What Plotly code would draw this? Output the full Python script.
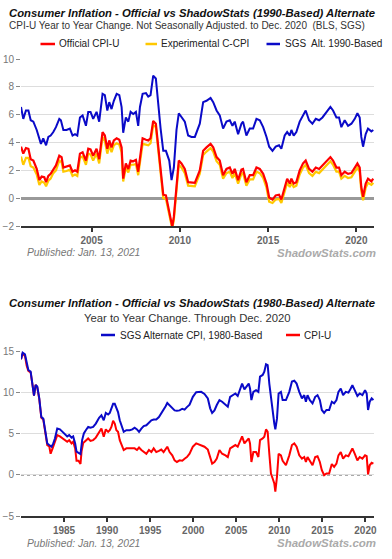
import plotly.graph_objects as go

W, H = 392, 559

# ---------------- Chart 1 data (1990-based) ----------------
cpi1_x = [2001.00, 2001.13, 2001.28, 2001.42, 2001.55, 2001.70, 2001.89, 2002.04, 2002.17, 2002.32,
          2002.42, 2002.55, 2002.68, 2002.83, 2002.98, 2003.17, 2003.30, 2003.40, 2003.58, 2003.77,
          2003.92, 2004.06, 2004.19, 2004.34, 2004.49, 2004.68, 2004.81, 2004.94, 2005.09, 2005.28,
          2005.43, 2005.62, 2005.75, 2005.89, 2006.00, 2006.13, 2006.26, 2006.42, 2006.57, 2006.70,
          2006.79, 2006.94, 2007.08, 2007.21, 2007.36, 2007.51, 2007.64, 2007.74, 2007.89, 2008.08,
          2008.21, 2008.34, 2008.49, 2008.64, 2008.77, 2008.91, 2009.06, 2009.21, 2009.34, 2009.47,
          2009.57, 2009.66, 2009.81, 2009.94, 2010.09, 2010.28, 2010.47, 2010.66, 2010.85, 2011.13,
          2011.32, 2011.51, 2011.74, 2011.89, 2012.08, 2012.26, 2012.45, 2012.64, 2012.83, 2012.98,
          2013.11, 2013.30, 2013.49, 2013.58, 2013.77, 2013.96, 2014.15, 2014.34, 2014.53, 2014.72,
          2014.91, 2015.06, 2015.25, 2015.43, 2015.62, 2015.75, 2015.94, 2016.08, 2016.23, 2016.32,
          2016.45, 2016.60, 2016.79, 2016.98, 2017.13, 2017.32, 2017.51, 2017.70, 2017.89, 2018.08,
          2018.30, 2018.53, 2018.68, 2018.87, 2019.02, 2019.15, 2019.34, 2019.53, 2019.72, 2019.91,
          2020.06, 2020.19, 2020.28, 2020.38, 2020.53, 2020.66, 2020.85, 2020.96]
cpi1_official = [3.7, 3.2, 3.6, 3.55, 2.8, 2.7, 2.1, 1.3, 1.55, 1.5,
                 1.15, 1.6, 1.75, 2.1, 2.35, 3.05, 2.95, 2.2, 2.25, 2.35,
                 1.9, 2.0, 1.9, 3.2, 3.3, 2.7, 3.55, 3.5, 3.05, 3.55,
                 2.8, 4.75, 4.5, 3.55, 4.15, 3.65, 4.15, 4.3, 4.2, 3.65,
                 1.4, 2.5, 2.1, 2.7, 2.65, 2.75, 1.9, 2.95, 4.3, 4.2,
                 4.15, 4.3, 5.55, 5.35, 3.8, 1.75, 0.25, 0.2, -0.65, -1.35,
                 -2.05, -1.35, 1.05, 2.7, 2.5, 2.1, 1.15, 1.1, 1.1, 2.0,
                 3.4, 3.65, 3.9, 3.65, 2.95, 2.7, 1.65, 2.1, 2.2, 1.75,
                 2.1, 1.3, 2.05, 2.1, 1.15, 1.65, 1.65, 2.2, 2.1, 1.75,
                 1.05, 0.05, -0.1, 0.2, 0.25, -0.1, 0.8, 1.4, 1.05, 1.4,
                 1.05, 1.15, 2.0, 2.5, 2.7, 2.1, 1.9, 2.2, 2.1, 2.35,
                 2.7, 2.95, 2.7, 2.2, 2.2, 1.65, 1.9, 1.75, 1.8, 2.2,
                 2.5, 2.2, 0.8, 0.1, 1.05, 1.4, 1.2, 1.4]
cpi1_chained = [3.0, 2.4, 2.9, 2.9, 2.3, 2.2, 1.7, 0.95, 1.2, 1.1,
                0.85, 1.25, 1.4, 1.8, 2.0, 2.7, 2.6, 1.9, 1.95, 2.05,
                1.6, 1.7, 1.6, 2.9, 3.0, 2.4, 3.2, 3.15, 2.7, 3.2,
                2.5, 4.4, 4.1, 3.2, 3.8, 3.3, 3.8, 3.95, 3.85, 3.3,
                1.2, 2.2, 1.85, 2.4, 2.4, 2.45, 1.65, 2.7, 3.9, 3.85,
                3.8, 3.95, 5.25, 5.1, 3.55, 1.5, 0.0, -0.05, -0.9, -1.6,
                -2.2, -1.55, 0.8, 2.4, 2.2, 1.8, 0.9, 0.85, 0.85, 1.75,
                3.1, 3.35, 3.6, 3.35, 2.65, 2.4, 1.4, 1.8, 1.9, 1.45,
                1.8, 1.05, 1.75, 1.8, 0.9, 1.35, 1.35, 1.9, 1.8, 1.45,
                0.75, -0.25, -0.35, -0.1, -0.05, -0.35, 0.5, 1.1, 0.8, 1.1,
                0.8, 0.9, 1.7, 2.2, 2.4, 1.8, 1.6, 1.9, 1.8, 2.05,
                2.4, 2.65, 2.4, 1.9, 1.9, 1.4, 1.6, 1.45, 1.5, 1.9,
                2.2, 1.9, 0.5, -0.15, 0.75, 1.1, 0.95, 1.1]

sgs90_x = [2001.00, 2001.13, 2001.28, 2001.42, 2001.55, 2001.70, 2001.89, 2002.04, 2002.13, 2002.26,
           2002.42, 2002.55, 2002.68, 2002.83, 2002.98, 2003.17, 2003.26, 2003.40, 2003.58, 2003.77,
           2003.92, 2004.06, 2004.19, 2004.34, 2004.49, 2004.68, 2004.81, 2004.94, 2005.09, 2005.28,
           2005.43, 2005.62, 2005.75, 2005.89, 2006.00, 2006.13, 2006.26, 2006.42, 2006.57, 2006.70,
           2006.79, 2006.94, 2007.08, 2007.21, 2007.36, 2007.51, 2007.64, 2007.74, 2007.89, 2008.08,
           2008.21, 2008.34, 2008.49, 2008.64, 2008.77, 2008.91, 2009.06, 2009.21, 2009.40, 2009.53,
           2009.66, 2009.81, 2009.94, 2010.09, 2010.28, 2010.47, 2010.66, 2010.85, 2011.13,
           2011.32, 2011.51, 2011.74, 2011.89, 2012.08, 2012.26, 2012.45, 2012.64, 2012.83, 2012.98,
           2013.11, 2013.30, 2013.49, 2013.58, 2013.77, 2013.96, 2014.15, 2014.34, 2014.53, 2014.72,
           2014.91, 2015.06, 2015.25, 2015.43, 2015.62, 2015.75, 2015.94, 2016.08, 2016.23, 2016.32,
           2016.45, 2016.60, 2016.79, 2016.98, 2017.13, 2017.32, 2017.51, 2017.70, 2017.89, 2018.08,
           2018.30, 2018.53, 2018.68, 2018.87, 2019.02, 2019.15, 2019.34, 2019.53, 2019.72, 2019.91,
           2020.06, 2020.19, 2020.28, 2020.38, 2020.53, 2020.66, 2020.85, 2020.96]
sgs90 = [6.55, 5.7, 6.3, 6.3, 5.6, 5.5, 4.9, 4.2, 3.9, 4.3,
         3.8, 4.4, 4.5, 4.75, 5.1, 5.7, 5.6, 4.9, 4.9, 5.0,
         4.5, 4.6, 4.5, 5.8, 5.95, 5.2, 6.2, 6.2, 5.7, 6.2,
         5.5, 7.5, 7.4, 6.3, 6.9, 6.4, 7.0, 7.5, 7.4, 6.55,
         4.7, 5.8, 5.5, 6.2, 6.05, 6.2, 5.2, 6.55, 7.5, 7.55,
         7.3, 7.4, 8.8, 8.6, 6.7, 5.0, 3.4, 3.4, 2.7, 1.3,
         2.2, 4.9, 6.1, 5.8, 5.5, 4.5, 4.4, 4.4, 5.35,
         6.9, 7.0, 7.2, 6.9, 6.3, 5.95, 5.0, 5.5, 5.6, 5.2,
         5.5, 4.6, 5.35, 5.5, 4.5, 5.0, 5.0, 5.7, 5.6, 5.1,
         4.4, 3.7, 3.4, 3.7, 3.8, 3.55, 4.5, 4.75, 4.5, 4.9,
         4.5, 4.75, 5.5, 5.95, 6.3, 5.6, 5.35, 5.7, 5.6, 5.8,
         6.2, 6.55, 6.3, 5.8, 5.8, 5.1, 5.6, 5.2, 5.35, 5.7,
         6.1, 5.8, 4.4, 3.7, 4.6, 5.0, 4.8, 4.9]

# ---------------- Chart 2 data (1980-based) ----------------
sgs80_x = [1980.00, 1980.19, 1980.46, 1980.66, 1980.85, 1981.12, 1981.35, 1981.51, 1981.70, 1981.89,
           1982.12, 1982.36, 1982.59, 1982.82, 1983.05, 1983.28, 1983.55, 1983.75, 1983.94, 1984.21,
           1984.52, 1984.83, 1985.10, 1985.37, 1985.60, 1985.87, 1986.06, 1986.29, 1986.45, 1986.68,
           1986.91, 1987.10, 1987.30, 1987.53, 1987.80, 1988.07, 1988.38, 1988.69, 1989.07, 1989.34,
           1989.61, 1989.85, 1990.12, 1990.31, 1990.50, 1990.70, 1990.89, 1991.08, 1991.27, 1991.47,
           1991.70, 1991.93, 1992.24, 1992.63, 1992.93, 1993.20, 1993.47, 1993.71, 1993.98, 1994.25,
           1994.56, 1994.86, 1995.14, 1995.41, 1995.71, 1996.02, 1996.29, 1996.56, 1996.80, 1996.99,
           1997.26, 1997.57, 1997.84, 1998.11, 1998.42, 1998.73, 1999.00, 1999.27, 1999.58, 1999.96,
           2000.35, 2000.93, 2001.31, 2001.70, 2001.97, 2002.20, 2002.47, 2002.74, 2003.05, 2003.36,
           2003.75, 2004.02, 2004.29, 2004.59, 2004.90, 2005.17, 2005.44, 2005.68, 2005.95, 2006.22,
           2006.45, 2006.60, 2006.76, 2006.99, 2007.30, 2007.57, 2007.76, 2008.07, 2008.26, 2008.46,
           2008.65, 2008.84, 2009.03, 2009.23, 2009.42, 2009.54, 2009.73, 2009.92, 2010.19, 2010.39,
           2010.77, 2011.16, 2011.47, 2011.74, 2012.01, 2012.32, 2012.63, 2012.90, 2013.09, 2013.28,
           2013.55, 2013.86, 2014.17, 2014.44, 2014.71, 2014.94, 2015.21, 2015.48, 2015.79, 2016.10,
           2016.37, 2016.64, 2016.87, 2017.14, 2017.41, 2017.72, 2018.03, 2018.30, 2018.49, 2018.76,
           2019.07, 2019.34, 2019.65, 2019.96, 2020.15, 2020.31, 2020.50, 2020.73, 2020.93]
sgs80 = [14.0, 14.8, 14.6, 13.5, 12.7, 12.5, 10.9, 9.6, 10.9, 10.7,
         9.3, 7.0, 6.8, 5.4, 3.8, 3.6, 3.4, 3.8, 4.4, 5.6,
         5.5, 5.2, 4.9, 4.65, 4.8, 4.5, 4.65, 3.8, 2.8, 2.65,
         2.5, 4.2, 5.0, 5.4, 5.8, 5.7, 5.8, 6.2, 6.9, 7.2,
         6.6, 7.5, 7.3, 7.5, 8.0, 8.6, 8.6, 8.0, 7.6, 6.6,
         5.8, 5.2, 5.4, 5.4, 5.5, 5.7, 5.5, 5.2, 5.6, 5.9,
         6.0, 6.3, 6.6, 6.7, 6.7, 7.0, 7.4, 7.8, 8.3, 8.7,
         8.4, 8.0, 7.8, 7.75, 7.8, 8.0, 7.9, 8.2, 8.5, 9.45,
         10.0, 10.05, 9.8, 9.25, 8.05, 7.5, 7.8, 8.45, 9.05, 8.85,
         8.45, 8.25, 9.45, 9.65, 9.85, 9.55, 10.25, 11.05, 10.35, 10.75,
         11.05, 10.45, 9.05, 10.05, 10.25, 10.05, 11.9, 12.1, 12.5, 13.4,
         13.3, 11.05, 9.25, 7.2, 6.2, 5.5, 6.8, 9.85, 10.05, 9.05,
         9.05, 10.05, 11.3, 11.4, 11.05, 10.05, 9.25, 9.65, 8.85, 9.65,
         9.05, 8.65, 9.45, 9.65, 9.05, 7.85, 7.5, 7.85, 7.85, 8.85,
         8.65, 9.05, 10.05, 10.45, 9.65, 10.05, 9.95, 10.45, 10.85, 10.25,
         9.55, 9.85, 9.65, 10.25, 9.85, 7.85, 8.85, 9.25, 9.05]

cpi2_x = [1980.00, 1980.19, 1980.46, 1980.66, 1980.85, 1981.12, 1981.35, 1981.51, 1981.70, 1981.89,
          1982.12, 1982.36, 1982.59, 1982.82, 1983.05, 1983.28, 1983.44, 1983.67, 1983.94, 1984.21,
          1984.52, 1984.83, 1985.10, 1985.37, 1985.60, 1985.87, 1986.06, 1986.29, 1986.45, 1986.68,
          1986.91, 1987.03, 1987.22, 1987.53, 1987.80, 1988.07, 1988.38, 1988.69, 1989.07, 1989.34,
          1989.61, 1989.85, 1990.12, 1990.31, 1990.50, 1990.70, 1990.89, 1991.08, 1991.27, 1991.47,
          1991.70, 1991.93, 1992.24, 1992.63, 1992.93, 1993.20, 1993.47, 1993.71, 1993.98, 1994.25,
          1994.56, 1994.86, 1995.14, 1995.41, 1995.71, 1996.02, 1996.29, 1996.56, 1996.80, 1996.99,
          1997.26, 1997.57, 1997.84, 1998.11, 1998.42, 1998.73, 1999.00, 1999.27, 1999.58, 1999.96,
          2000.35, 2000.93, 2001.31, 2001.70, 2001.97, 2002.20, 2002.47, 2002.74, 2003.05, 2003.36,
          2003.75, 2004.02, 2004.29, 2004.59, 2004.90, 2005.17, 2005.44, 2005.68, 2005.95, 2006.22,
          2006.45, 2006.60, 2006.76, 2006.99, 2007.30, 2007.57, 2007.76, 2008.07, 2008.26, 2008.46,
          2008.65, 2008.84, 2009.03, 2009.23, 2009.42, 2009.54, 2009.73, 2009.92, 2010.19, 2010.39,
          2010.77, 2011.16, 2011.47, 2011.74, 2012.01, 2012.32, 2012.63, 2012.90, 2013.09, 2013.28,
          2013.55, 2013.86, 2014.17, 2014.44, 2014.71, 2014.94, 2015.21, 2015.48, 2015.79, 2016.10,
          2016.37, 2016.64, 2016.87, 2017.14, 2017.41, 2017.72, 2018.03, 2018.30, 2018.49, 2018.76,
          2019.07, 2019.34, 2019.65, 2019.96, 2020.15, 2020.31, 2020.50, 2020.73, 2020.93]
cpi2 = [14.0, 14.7, 14.4, 13.2, 12.6, 12.4, 10.8, 9.6, 10.9, 10.6,
        9.2, 6.9, 6.7, 5.3, 3.6, 3.45, 2.55, 3.2, 4.0, 4.8,
        4.65, 4.4, 4.2, 4.0, 4.2, 3.8, 4.0, 3.2, 1.7, 1.7,
        1.3, 2.8, 3.85, 4.2, 4.4, 4.1, 4.2, 4.5, 5.2, 5.6,
        4.6, 5.5, 5.2, 5.4, 5.8, 6.55, 6.2, 5.4, 5.2, 4.2,
        3.6, 3.0, 3.2, 3.2, 3.25, 3.2, 3.0, 3.3, 3.0, 2.75,
        2.55, 3.0, 2.75, 3.2, 2.75, 2.9, 3.05, 2.75, 3.2, 3.4,
        2.75, 2.35, 1.75, 1.55, 1.75, 1.7, 1.95, 2.15, 2.55, 3.4,
        3.8, 3.6, 3.4, 3.05, 1.95, 1.35, 1.55, 1.95, 3.0, 2.55,
        2.35, 2.15, 3.2, 3.4, 3.6, 3.4, 4.2, 4.65, 3.8, 4.2,
        4.4, 3.8, 1.55, 2.75, 2.75, 2.15, 4.2, 4.4, 4.6, 5.5,
        5.2, 2.55, 0.15, -0.45, -1.05, -2.05, -0.25, 2.55, 2.35, 1.7,
        1.15, 2.35, 3.6, 3.8, 3.4, 2.35, 1.95, 2.15, 1.55, 2.15,
        1.7, 1.15, 2.15, 2.25, 1.55, 0.55, -0.05, 0.15, 0.15, 1.3,
        0.95, 1.35, 2.35, 2.75, 1.95, 2.35, 2.25, 2.75, 3.2, 2.55,
        1.75, 2.15, 1.95, 2.35, 2.25, 0.05, 1.15, 1.45, 1.35]

x1_ticks = [2005, 2010, 2015, 2020]
y1_ticks = [-2, 0, 2, 4, 6, 8, 10]
x2_ticks = [1985, 1990, 1995, 2000, 2005, 2010, 2015, 2020]
y2_ticks = [-5, 0, 5, 10, 15]

RED = "#ff0000"
YEL = "#ffc800"
BLUE = "#0a0ac8"
FONT = "Liberation Sans, Arial, sans-serif"

def px(x):
    return x / W

def py(y):
    return 1 - y / H

fig = go.Figure()
fig.add_trace(go.Scatter(x=cpi1_x, y=cpi1_chained, mode="lines", name="Experimental C-CPI",
                         line=dict(color=YEL, width=2.2), xaxis="x", yaxis="y"))
fig.add_trace(go.Scatter(x=cpi1_x, y=cpi1_official, mode="lines", name="Official CPI-U",
                         line=dict(color=RED, width=2.2), xaxis="x", yaxis="y"))
fig.add_trace(go.Scatter(x=sgs90_x, y=sgs90, mode="lines", name="SGS  Alt. 1990-Based",
                         line=dict(color=BLUE, width=2), xaxis="x", yaxis="y"))
fig.add_trace(go.Scatter(x=cpi2_x, y=cpi2, mode="lines", name="CPI-U",
                         line=dict(color=RED, width=2), xaxis="x2", yaxis="y2"))
fig.add_trace(go.Scatter(x=sgs80_x, y=sgs80, mode="lines", name="SGS Alternate CPI, 1980-Based",
                         line=dict(color=BLUE, width=2), xaxis="x2", yaxis="y2"))

xdom = [px(21), px(374)]
common_x = dict(showgrid=False, zeroline=False, showline=True, linecolor="#333", linewidth=1.5,
                ticks="outside", ticklen=4, tickwidth=1.5, tickcolor="#333",
                tickfont=dict(family=FONT, size=10, color="#666", weight="bold"))
common_y = dict(showgrid=True, gridcolor="#dddddd", gridwidth=1, showline=False,
                ticks="outside", ticklen=4, tickcolor="#888",
                tickfont=dict(family=FONT, size=10, color="#777"))

fig.update_layout(
    width=W, height=H, margin=dict(l=0, r=0, t=0, b=0, autoexpand=False),
    paper_bgcolor="white", plot_bgcolor="white", showlegend=False,
    xaxis=dict(domain=xdom, range=[2001, 2021], tickvals=x1_ticks, anchor="y", **common_x),
    yaxis=dict(domain=[py(226), py(59)], range=[-2, 10], tickvals=y1_ticks, anchor="x",
               zeroline=True, zerolinecolor="#999", zerolinewidth=2.5, **common_y),
    xaxis2=dict(domain=xdom, range=[1980, 2021], tickvals=x2_ticks, anchor="y2", **common_x),
    yaxis2=dict(domain=[py(516), py(351)], range=[-5, 15], tickvals=y2_ticks, anchor="x2",
                zeroline=False, **common_y),
)

# dotted zero line for chart 2
fig.add_shape(type="line", xref="x2 domain", yref="y2", x0=0, x1=1, y0=0, y1=0,
              line=dict(color="#555", width=1.5, dash="dot"), layer="below")

ann = []
def text(x, y, s, size, color, xanchor="left", weight="normal", style="normal"):
    ann.append(dict(x=px(x), y=py(y), xref="paper", yref="paper", text=s, showarrow=False,
                    xanchor=xanchor, yanchor="middle",
                    font=dict(family=FONT, size=size, color=color, weight=weight, style=style)))

def legline(x0, x1, y, color):
    fig.add_shape(type="line", xref="paper", yref="paper", x0=px(x0), x1=px(x1), y0=py(y), y1=py(y),
                  line=dict(color=color, width=2.5))

# Chart 1 header
text(7, 13, "Consumer Inflation - Official vs ShadowStats (1990-Based) Alternate", 11.3, "#111",
     weight="bold", style="italic")
text(7, 26, "CPI-U Year to Year Change. Not Seasonally Adjusted. to Dec. 2020  (BLS, SGS)", 10, "#333")
legline(40.5, 55, 44, RED)
text(57, 44, "Official CPI-U", 10, "#222")
legline(145.5, 157, 44, YEL)
text(159, 44, "Experimental C-CPI", 10, "#222")
legline(266.5, 280, 44, BLUE)
text(283, 44, "SGS  Alt. 1990-Based", 10, "#222")
text(25, 253, "Published: Jan. 13, 2021", 10.3, "#777", style="italic")
text(378, 252.5, "ShadowStats.com", 11.5, "#aaaaaa", xanchor="right", weight="bold", style="italic")

# Chart 2 header
text(7, 303, "Consumer Inflation - Official vs ShadowStats (1980-Based) Alternate", 11.3, "#111",
     weight="bold", style="italic")
text(187, 318, "Year to Year Change. Through Dec. 2020", 11.3, "#333", xanchor="center")
legline(101, 115, 335, BLUE)
text(118, 335, "SGS Alternate CPI, 1980-Based", 10, "#222")
legline(286, 300, 335, RED)
text(302, 335, "CPI-U", 10, "#222")
text(25, 543, "Published: Jan. 13, 2021", 10.3, "#777", style="italic")
text(378, 542.5, "ShadowStats.com", 11.5, "#aaaaaa", xanchor="right", weight="bold", style="italic")

fig.update_layout(annotations=ann)
fig.write_html("out.html", config={"displayModeBar": False},
               post_script="document.body.style.margin='0px';document.body.style.padding='0px';")
